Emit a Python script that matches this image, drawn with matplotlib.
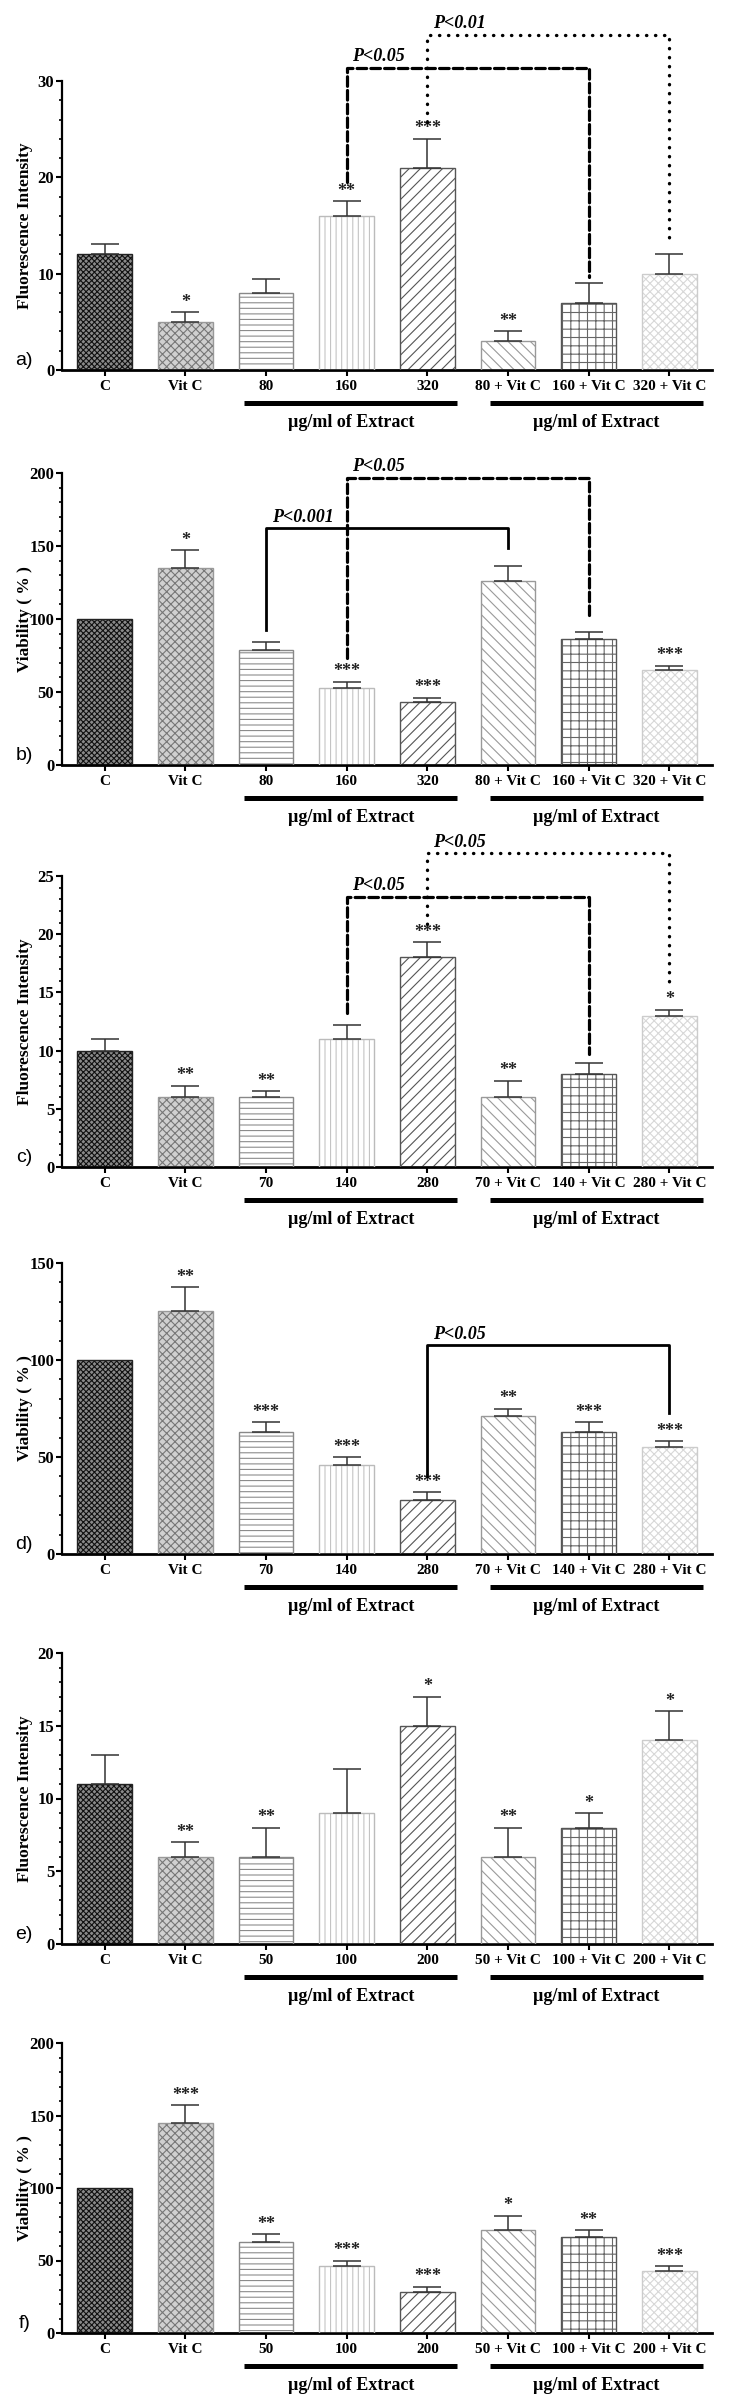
import numpy as np
import matplotlib.pyplot as plt

# dose groups per extract
doses_ab = [80, 160, 320]
doses_cd = [70, 140, 280]
doses_ef = [50, 100, 200]

# a) fluorescence
a_mean = [12, 5, 8, 16, 21, 3, 7, 10]
a_err = [1.1, 1.0, 1.4, 1.5, 3.0, 1.0, 2.0, 2.0]
a_stars = ['', '*', '', '**', '***', '**', '', '']

# b) viability
b_mean = [100, 135, 79, 53, 43, 126, 86, 65]
b_err = [0, 12, 5, 4, 3, 10, 5, 3]
b_stars = ['', '*', '', '***', '***', '', '', '***']

# c) fluorescence
c_mean = [10, 6, 6, 11, 18, 6, 8, 13]
c_err = [1.0, 1.0, 0.5, 1.2, 1.3, 1.4, 0.9, 0.5]
c_stars = ['', '**', '**', '', '***', '**', '', '*']

# d) viability
d_mean = [100, 125.5, 63, 46, 28, 71, 63, 55]
d_err = [0, 12, 5, 4, 4, 4, 5, 3]
d_stars = ['', '**', '***', '***', '***', '**', '***', '***']

# e) fluorescence
e_mean = [11, 6, 6, 9, 15, 6, 8, 14]
e_err = [2, 1, 2, 3, 2, 2, 1, 2]
e_stars = ['', '**', '**', '', '*', '**', '*', '*']

# f) viability
f_mean = [100, 145, 63, 46, 28, 71, 66, 43]
f_err = [0, 12, 5, 4, 4, 10, 5, 3]
f_stars = ['', '***', '**', '***', '***', '*', '**', '***']

# comparisons: (bar1, bar2, leg1 bottom, leg2 bottom, top, style, text)
a_comp = [(3, 6, 19.5, 9.7, 31.35, 'dashed', 'P<0.05'),
          (4, 7, 25.7, 13.0, 34.8, 'dotted', 'P<0.01')]
b_comp = [(2, 5, 92.5, 148.6, 162, 'solid', 'P<0.001'),
          (3, 6, 73, 100.7, 196.5, 'dashed', 'P<0.05')]
c_comp = [(3, 6, 13.2, 9.75, 23.2, 'dashed', 'P<0.05'),
          (4, 7, 20.9, 15.9, 26.95, 'dotted', 'P<0.05')]
d_comp = [(4, 7, 40, 72.6, 107.5, 'solid', 'P<0.05')]

fluo_label = 'Fluorescence Intensity'
viab_label = 'Viability ( % )'
extract_text = 'µg/ml of Extract'


def make_labels(doses):
    return ['C', 'Vit C'] + [str(d) for d in doses] + ['%d + Vit C' % d for d in doses]


# face, hatch colour, hatch, outline
styles = [
    ('#8a8a8a', '#111111', 'xxxxxx', '#222222'),
    ('#d0d0d0', '#777777', 'xxxx', '#999999'),
    ('white', '#8c8c8c', '---', '#888888'),
    ('white', '#c4c4c4', '|||', '#bbbbbb'),
    ('white', '#555555', '///', '#555555'),
    ('white', '#9a9a9a', '\\\\\\', '#999999'),
    ('white', '#666666', '++', '#555555'),
    ('white', '#d8d8d8', 'xxxx', '#cccccc'),
]

serif = 'Liberation Serif'
plt.rcParams['hatch.linewidth'] = 0.8

panels = [
    ('a)', a_mean, a_err, a_stars, doses_ab, fluo_label, 30, 10, 2, a_comp, 81, 370),
    ('b)', b_mean, b_err, b_stars, doses_ab, viab_label, 200, 50, 10, b_comp, 473, 765),
    ('c)', c_mean, c_err, c_stars, doses_cd, fluo_label, 25, 5, 1, c_comp, 876, 1167),
    ('d)', d_mean, d_err, d_stars, doses_cd, viab_label, 150, 50, 10, d_comp, 1263, 1554),
    ('e)', e_mean, e_err, e_stars, doses_ef, fluo_label, 20, 5, 1, [], 1653, 1944),
    ('f)', f_mean, f_err, f_stars, doses_ef, viab_label, 200, 50, 10, [], 2043, 2333),
]

W, H = 755, 2402
fig = plt.figure(figsize=(W / 100, H / 100), dpi=100)

for tag, mean, err, stars, doses, ylab, ymax, major, minor, comps, ytop, ybot in panels:
    ax = fig.add_axes([62 / W, 1 - ybot / H, 650 / W, (ybot - ytop) / H])
    x = np.arange(len(mean))
    for i in range(len(mean)):
        face, hcol, hatch, edge = styles[i]
        ax.bar(x[i], mean[i], width=0.68, facecolor=face, edgecolor=hcol,
               hatch=hatch, linewidth=0, zorder=2)
        ax.bar(x[i], mean[i], width=0.68, facecolor='none', edgecolor=edge,
               linewidth=1.0, zorder=3)
    err = np.array(err, dtype=float)
    has = err > 0
    ax.errorbar(x[has], np.array(mean)[has], yerr=[np.zeros(has.sum()), err[has]],
                fmt='none', ecolor='#333333', elinewidth=1.1, capsize=10,
                capthick=1.1, zorder=4)
    for i, s in enumerate(stars):
        if s:
            ax.annotate(s, (x[i], mean[i] + err[i]), xytext=(0, 1),
                        textcoords='offset points', ha='center', va='bottom',
                        fontsize=13, fontweight='bold', family=serif, color='#222222')

    for x1, x2, y1, y2, ytopc, style, txt in comps:
        if style == 'dashed':
            ls, lw = (0, (3, 1.3)), 2.3
        elif style == 'dotted':
            ls, lw = (0, (0.1, 2.6)), 2.4
        else:
            ls, lw = '-', 2.0
        ax.plot([x1, x1, x2, x2], [y1, ytopc, ytopc, y2], color='black',
                linestyle=ls, linewidth=lw, dash_capstyle='round',
                clip_on=False, zorder=6)
        ax.annotate(txt, (x1, ytopc), xytext=(4, 2), textcoords='offset points',
                    ha='left', va='bottom', fontsize=13, fontweight='bold',
                    fontstyle='italic', family=serif, annotation_clip=False)

    ax.set_xlim(-0.53, 7.53)
    ax.set_ylim(0, ymax)
    ax.set_yticks(np.arange(0, ymax + 0.1, major))
    ax.set_yticks(np.arange(0, ymax + 0.1, minor), minor=True)
    ax.set_xticks(x)
    ax.set_xticklabels(make_labels(doses))
    for lab in ax.get_xticklabels():
        lab.set_fontfamily(serif)
        lab.set_fontweight('bold')
        lab.set_fontsize(11)
    for lab in ax.get_yticklabels():
        lab.set_fontfamily(serif)
        lab.set_fontweight('bold')
        lab.set_fontsize(12)
    ax.tick_params(axis='x', length=4, width=1.5, pad=3, direction='out')
    ax.tick_params(axis='y', which='major', length=4, width=1.5, pad=1.5)
    ax.tick_params(axis='y', which='minor', length=2.5, width=1.2)
    ax.spines['top'].set_visible(False)
    ax.spines['right'].set_visible(False)
    ax.spines['left'].set_linewidth(1.6)
    ax.spines['bottom'].set_linewidth(2.0)

    ax.set_ylabel(ylab, fontsize=12.5, fontweight='bold', family=serif)
    ax.yaxis.set_label_coords(-0.045, 0.5)
    ax.text(-0.058, 0.005, tag, transform=ax.transAxes, ha='center', va='bottom',
            fontsize=14, family='Liberation Sans')

    trans = ax.get_xaxis_transform()
    for xa, xb in [(1.73, 4.37), (4.78, 7.42)]:
        ax.plot([xa, xb], [-0.114, -0.114], color='black', linewidth=3.6,
                transform=trans, clip_on=False, solid_capstyle='butt')
        ax.text((xa + xb) / 2, -0.18, extract_text, transform=trans, ha='center',
                va='center', fontsize=13, fontweight='bold', family=serif)

fig.savefig('out.png', dpi=100)
